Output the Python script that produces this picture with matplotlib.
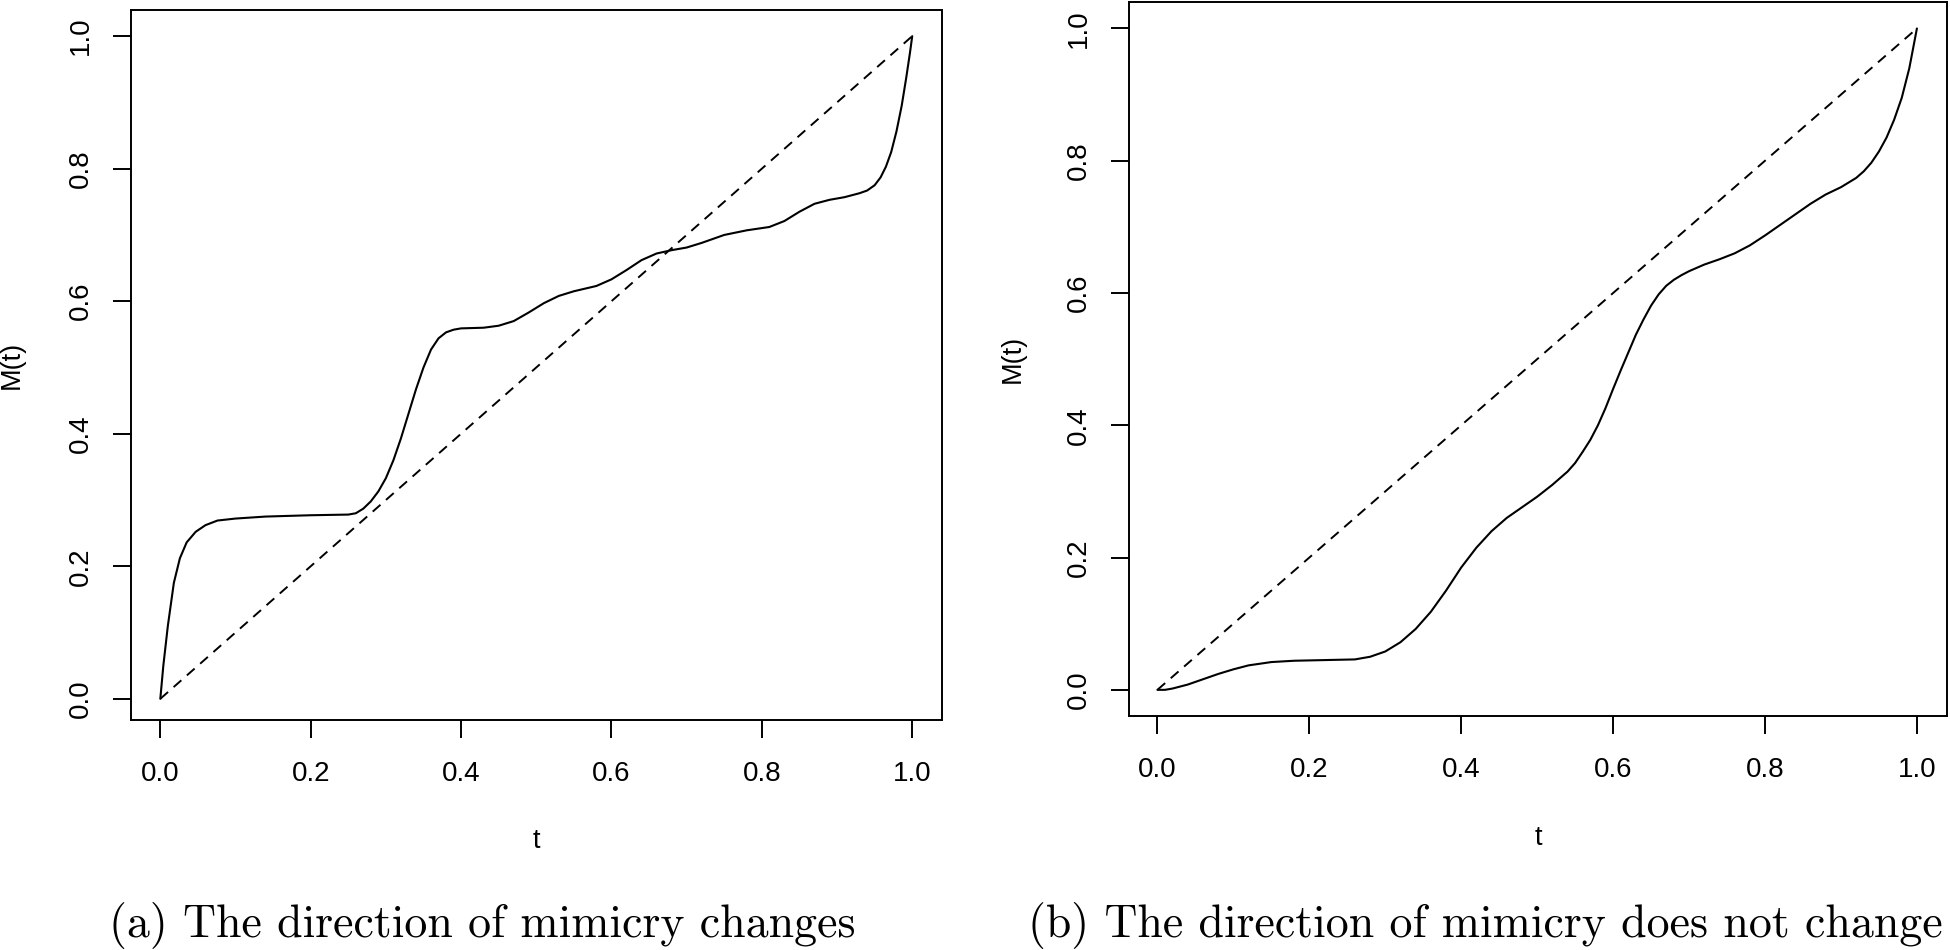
import matplotlib
matplotlib.use("Agg")
import matplotlib.pyplot as plt

# ---- data ----
t_a = [0.0, 0.004, 0.01, 0.018, 0.026, 0.035, 0.047, 0.06, 0.076, 0.1, 0.14,
       0.2, 0.25, 0.26, 0.27, 0.28, 0.29, 0.30, 0.31, 0.32, 0.33, 0.34, 0.35,
       0.36, 0.37, 0.38, 0.39, 0.40, 0.43, 0.45, 0.47, 0.49, 0.51, 0.53, 0.55,
       0.58, 0.60, 0.62, 0.64, 0.66, 0.68, 0.70, 0.72, 0.75, 0.78, 0.81, 0.83,
       0.85, 0.87, 0.89, 0.91, 0.93, 0.94, 0.95, 0.958, 0.965, 0.972, 0.979,
       0.986, 0.992, 0.997, 1.0]
M_a = [0.0, 0.05, 0.11, 0.175, 0.212, 0.236, 0.252, 0.262, 0.269, 0.272,
       0.275, 0.277, 0.278, 0.280, 0.287, 0.298, 0.313, 0.333, 0.36, 0.393,
       0.43, 0.467, 0.500, 0.527, 0.544, 0.553, 0.557, 0.559, 0.560, 0.563,
       0.570, 0.583, 0.597, 0.608, 0.615, 0.623, 0.633, 0.647, 0.662, 0.672,
       0.677, 0.681, 0.688, 0.700, 0.707, 0.712, 0.721, 0.735, 0.747, 0.753,
       0.757, 0.763, 0.767, 0.775, 0.787, 0.803, 0.825, 0.856, 0.895, 0.937,
       0.975, 1.0]

t_b = [0.0, 0.01, 0.02, 0.04, 0.06, 0.08, 0.10, 0.12, 0.15, 0.18, 0.22, 0.26,
       0.28, 0.30, 0.32, 0.34, 0.36, 0.38, 0.40, 0.42, 0.44, 0.46, 0.48, 0.50,
       0.52, 0.54, 0.55, 0.56, 0.57, 0.58, 0.59, 0.60, 0.61, 0.62, 0.63, 0.64,
       0.65, 0.66, 0.67, 0.68, 0.69, 0.70, 0.72, 0.74, 0.76, 0.78, 0.80, 0.82,
       0.84, 0.86, 0.88, 0.90, 0.92, 0.93, 0.94, 0.95, 0.96, 0.97, 0.98, 0.99,
       1.0]
M_b = [0.0, 0.0, 0.002, 0.008, 0.016, 0.024, 0.031, 0.037, 0.042, 0.044,
       0.045, 0.046, 0.050, 0.058, 0.072, 0.092, 0.118, 0.150, 0.185, 0.215,
       0.240, 0.260, 0.276, 0.292, 0.310, 0.330, 0.343, 0.360, 0.378, 0.400,
       0.426, 0.455, 0.483, 0.510, 0.537, 0.560, 0.581, 0.598, 0.611, 0.620,
       0.627, 0.633, 0.643, 0.651, 0.660, 0.672, 0.687, 0.703, 0.719, 0.735,
       0.749, 0.760, 0.774, 0.784, 0.797, 0.814, 0.835, 0.862, 0.895, 0.940,
       1.0]

diag_t = [0.0, 1.0]
diag_M = [0.0, 1.0]

ticks = [0.0, 0.2, 0.4, 0.6, 0.8, 1.0]
tick_labels = ["0.0", "0.2", "0.4", "0.6", "0.8", "1.0"]
xlabel = "t"
ylabel = "M(t)"
captions = ["(a) The direction of mimicry changes",
            "(b) The direction of mimicry does not change"]

# ---- layout ----
W, H = 1950, 950
fig = plt.figure(figsize=(W / 100, H / 100), dpi=100)
sans = "Liberation Sans"
fs = 19.5

def px_axes(l, t, r, b):
    return [l / W, 1 - b / H, (r - l) / W, (b - t) / H]

panels = [
    dict(rect=px_axes(131, 10.3, 942.3, 720), xlim=(-0.039, 1.040),
         ylim=(-0.032, 1.039), t=t_a, M=M_a, xl=(536.5, 841), yl=(12, 365),
         cap=(482, 937)),
    dict(rect=px_axes(1129.3, 2, 1947.3, 716.3), xlim=(-0.037, 1.040),
         ylim=(-0.040, 1.040), t=t_b, M=M_b, xl=(1538, 838), yl=(1013, 359),
         cap=(1485, 937)),
]

for i, p in enumerate(panels):
    ax = fig.add_axes(p["rect"])
    ax.plot(p["t"], p["M"], color="black", lw=1.5, solid_capstyle="round",
            solid_joinstyle="round")
    ax.plot(diag_t, diag_M, color="black", lw=1.4, linestyle=(0, (5.3, 3.8)))
    ax.set_xlim(*p["xlim"])
    ax.set_ylim(*p["ylim"])
    ax.set_xticks(ticks)
    ax.set_xticklabels(tick_labels)
    ax.set_yticks(ticks)
    ax.set_yticklabels(tick_labels)
    for s in ax.spines.values():
        s.set_linewidth(1.4)
    ax.tick_params(direction="out", length=13, width=1.4, labelsize=20)
    ax.tick_params(axis="x", pad=16.5)
    ax.tick_params(axis="y", pad=14)
    for lab in ax.get_xticklabels():
        lab.set_fontfamily(sans)
    for lab in ax.get_yticklabels():
        lab.set_fontfamily(sans)
        lab.set_rotation(90)
        lab.set_va("center")
    fig.text(p["xl"][0] / W, 1 - p["xl"][1] / H, xlabel, ha="center",
             va="center", fontsize=fs, family=sans)
    fig.text(p["yl"][0] / W, 1 - p["yl"][1] / H, ylabel, ha="center",
             va="center", rotation=90, fontsize=fs, family=sans)
    fig.text(p["cap"][0] / W, 1 - p["cap"][1] / H, captions[i], ha="center",
             va="baseline", fontsize=33, family="cmr10")

fig.savefig("out.png", dpi=100, facecolor="white")
